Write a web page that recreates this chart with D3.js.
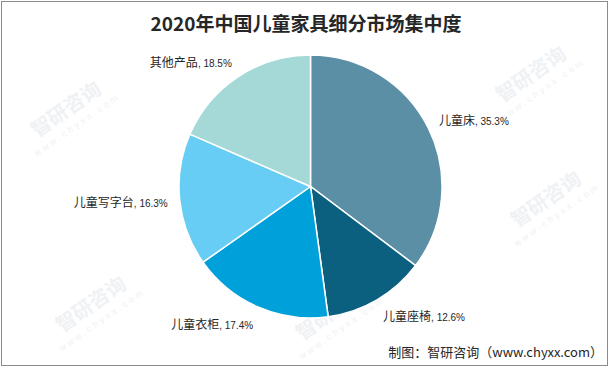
<!DOCTYPE html>
<html><head><meta charset="utf-8">
<script src="https://cdn.jsdelivr.net/npm/d3@7"></script>
<style>body{margin:0;background:#fff}svg{display:block}</style>
</head><body>
<svg id="c" width="610" height="368"></svg>
<script>
const categories = ["儿童床", "儿童座椅", "儿童衣柜", "儿童写字台", "其他产品"];
const values = [35.3, 12.6, 17.4, 16.3, 18.5];
const colors = ["#5b8fa5", "#0b5f7f", "#00a1da", "#68cdf4", "#a5d9d8"];
const title = "2020年中国儿童家具细分市场集中度";
const source = "制图：智研咨询（www.chyxx.com）";

const svg = d3.select("#c");
const W = 610, H = 368;
svg.append("rect").attr("x",1.5).attr("y",1.5).attr("width",W-4).attr("height",H-4)
  .attr("fill","#fff").attr("stroke","#8c8c8c").attr("stroke-width",1);

// faint watermarks
const wm = [[70,115],[535,80],[285,200],[550,205],[95,310],[335,318]];
wm.forEach(([x,y])=>{
  const g = svg.append("g").attr("transform",`translate(${x},${y}) rotate(-35)`).attr("opacity",0.5);
  g.append("text").attr("text-anchor","middle").attr("font-family","Noto Sans CJK SC").attr("font-weight","bold")
    .attr("font-size",20).attr("fill","#dfe6ec").text("智研咨询");
  g.append("text").attr("text-anchor","middle").attr("y",15).attr("font-family","Arial, Liberation Sans").attr("font-size",9)
    .attr("letter-spacing",3).attr("fill","#dfe6ec").text("www.chyxx.com");
});

svg.append("text").attr("x",306).attr("y",31).attr("text-anchor","middle")
  .attr("font-family","'Noto Sans CJK SC'").attr("font-weight","bold").attr("font-size",19)
  .attr("fill","#262626").text(title);

const cx = 310.5, cy = 186.5, r = 131.5;
const pie = d3.pie().sort(null).value(d=>d)(values);
const arc = d3.arc().innerRadius(0).outerRadius(r);
const g = svg.append("g").attr("transform",`translate(${cx},${cy})`);
g.selectAll("path").data(pie).join("path").attr("d",arc)
  .attr("fill",(d,i)=>colors[i]).attr("stroke","#fff").attr("stroke-width",1.5);

const lr = r + 12;
pie.forEach((d,i)=>{
  const a = (d.startAngle + d.endAngle)/2;
  const x = lr*Math.sin(a), y = -lr*Math.cos(a) - Math.cos(a)*6;
  const t = g.append("text").attr("x",x).attr("y",y).attr("dy","0.35em")
    .attr("text-anchor", Math.sin(a) >= 0 ? "start" : "end").attr("fill","#262626");
  t.append("tspan").attr("font-family","'Noto Sans CJK SC'").attr("font-size",12).text(categories[i]);
  t.append("tspan").attr("font-family","'Liberation Sans', Arial").attr("font-size",10).text(", " + values[i].toFixed(1) + "%");
});

svg.append("text").attr("x",603).attr("y",357).attr("text-anchor","end")
  .attr("font-family","'Noto Sans CJK SC'").attr("font-size",13).attr("fill","#262626").text(source);
</script>
</body></html>
